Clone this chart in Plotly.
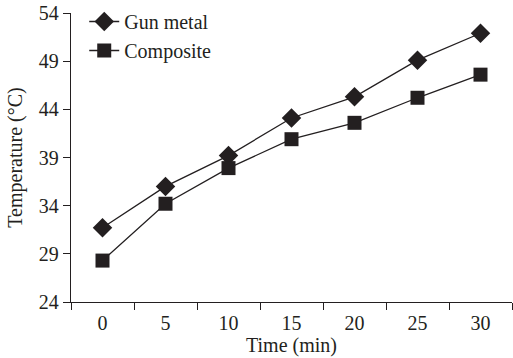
import plotly.graph_objects as go

time_labels = ["0", "5", "10", "15", "20", "25", "30"]
gun_metal = [31.7, 36.0, 39.2, 43.1, 45.3, 49.1, 51.9]
composite = [28.3, 34.2, 37.9, 40.9, 42.6, 45.2, 47.6]
y_ticks = [24, 29, 34, 39, 44, 49, 54]

ink = "#231f20"
font = "Liberation Serif, Times New Roman, serif"
fs = 20

fig = go.Figure()
fig.add_trace(go.Scatter(x=time_labels, y=gun_metal, name="Gun metal", mode="lines+markers",
                         line=dict(color=ink, width=1.3),
                         marker=dict(symbol="diamond", size=15, color=ink)))
fig.add_trace(go.Scatter(x=time_labels, y=composite, name="Composite", mode="lines+markers",
                         line=dict(color=ink, width=1.3),
                         marker=dict(symbol="square", size=14, color=ink)))

fig.update_layout(
    width=513, height=358,
    margin=dict(l=71, r=1, t=13, b=56),
    paper_bgcolor="white", plot_bgcolor="white",
    font=dict(family=font, size=fs, color=ink),
    showlegend=True,
    legend=dict(x=0.03, y=1.038, xanchor="left", yanchor="top",
                bgcolor="rgba(0,0,0,0)", font=dict(size=fs, family=font),
                itemwidth=30, tracegroupgap=0),
)
fig.update_xaxes(type="category", showline=True, linecolor=ink, linewidth=1.3,
                 ticks="outside", ticklen=7, tickcolor=ink, tickwidth=1.3,
                 tickson="boundaries", showgrid=False, zeroline=False,
                 ticklabelstandoff=3,
                 title=dict(text="Time (min)", standoff=2, font=dict(size=fs)),
                 tickfont=dict(size=fs))
fig.update_xaxes(range=[-0.5, 6.5])
fig.update_yaxes(range=[24, 54], tickvals=y_ticks, showline=True, linecolor=ink, linewidth=1.3,
                 ticks="outside", ticklen=7, tickcolor=ink, tickwidth=1.3,
                 showgrid=False, zeroline=False,
                 title=dict(text="Temperature (°C)", standoff=10, font=dict(size=fs)),
                 tickfont=dict(size=fs))

fig.write_html("out.html")
